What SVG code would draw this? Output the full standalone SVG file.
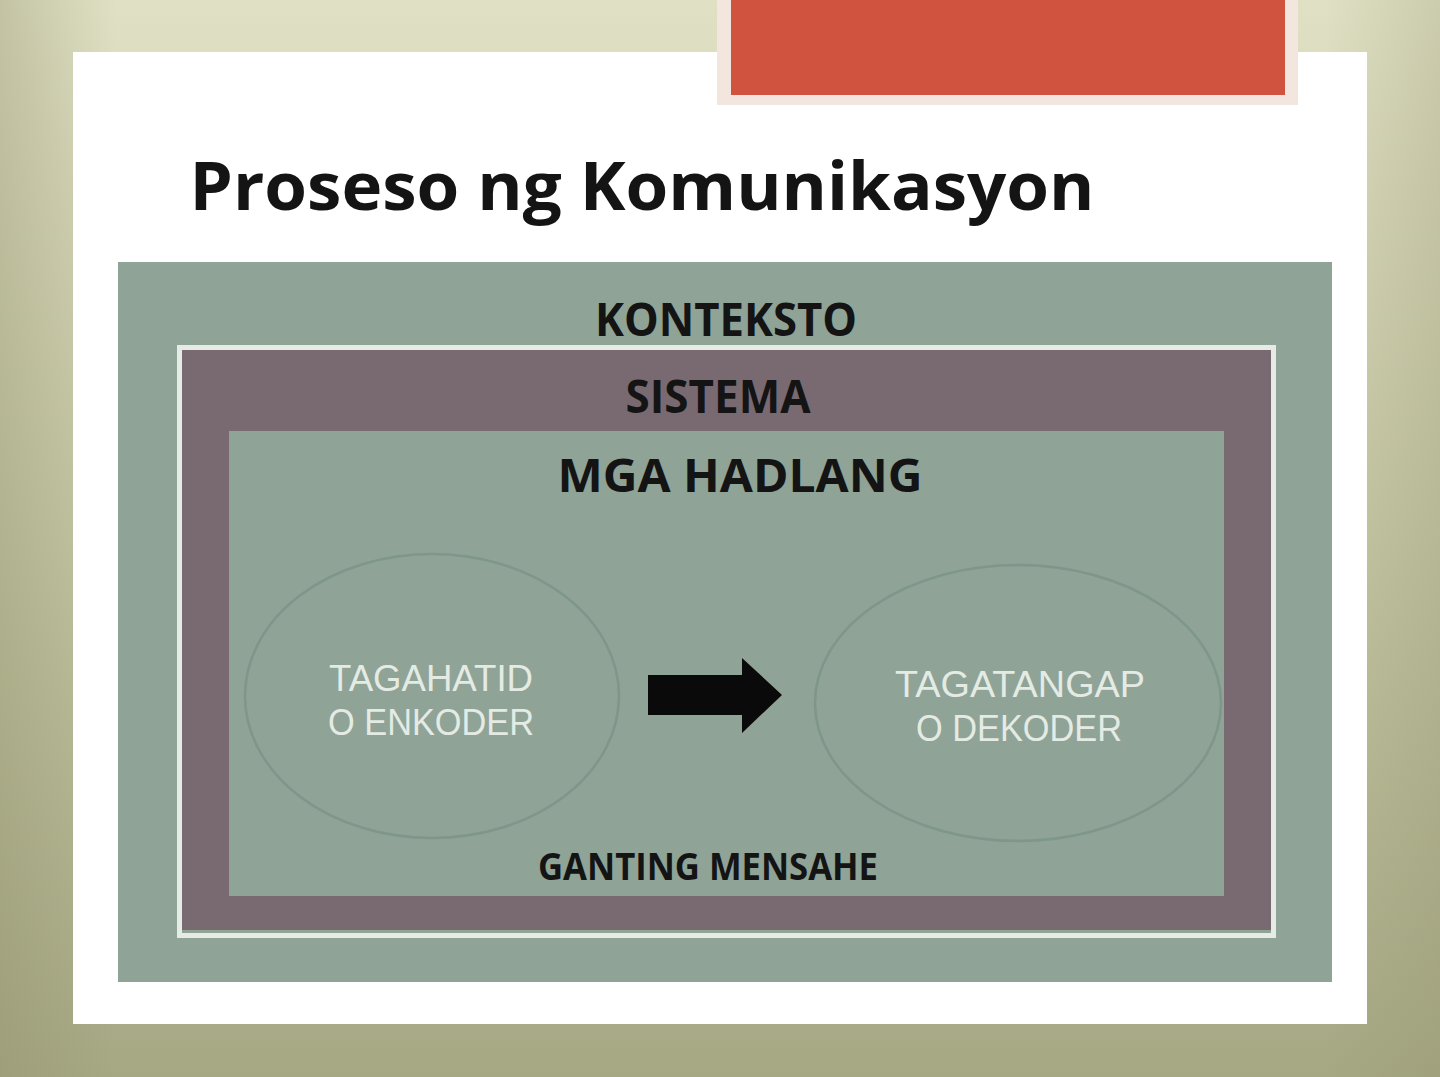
<svg xmlns="http://www.w3.org/2000/svg" width="1440" height="1077" viewBox="0 0 1440 1077">
<style>
.hdr{font-family:"Open Sans","Liberation Sans",sans-serif;font-weight:700;fill:#141414;text-anchor:middle}
.node{font-family:"Liberation Sans","DejaVu Sans",sans-serif;font-weight:400;fill:#e4ebe4;text-anchor:middle}
.ell{fill:none;stroke:#7f968a;stroke-width:2.5}
</style>
<defs>
<linearGradient id="bg" x1="0" y1="0" x2="0" y2="1">
<stop offset="0" stop-color="#e0e0c4"/>
<stop offset="0.5" stop-color="#c4c5a2"/>
<stop offset="1" stop-color="#a6a783"/>
</linearGradient>
<linearGradient id="bgx" x1="0" y1="0" x2="1" y2="0">
<stop offset="0" stop-color="#8e8f6a" stop-opacity="0.35"/>
<stop offset="0.08" stop-color="#8e8f6a" stop-opacity="0"/>
<stop offset="0.92" stop-color="#8e8f6a" stop-opacity="0"/>
<stop offset="1" stop-color="#8e8f6a" stop-opacity="0.25"/>
</linearGradient>
</defs>
<g id="background">
<rect x="0" y="0" width="1440" height="1077" fill="url(#bg)"/>
<rect x="0" y="0" width="1440" height="1077" fill="url(#bgx)"/>
</g>
<g id="slide">
<rect x="73" y="52" width="1294" height="972" fill="#ffffff"/>
<rect x="717" y="-2" width="581" height="107" fill="#f3e6df"/>
<rect x="731" y="-2" width="554" height="97" fill="#cf533e"/>
<text x="642" y="210" class="hdr" font-size="66" font-weight="600" textLength="905" lengthAdjust="spacingAndGlyphs">Proseso ng Komunikasyon</text>
</g>
<g id="konteksto">
<rect x="118" y="262" width="1214" height="720" fill="#8fa397"/>
<text x="726" y="336" class="hdr" font-size="46" textLength="262" lengthAdjust="spacingAndGlyphs">KONTEKSTO</text>
</g>
<g id="sistema">
<rect x="179.5" y="347.5" width="1094" height="588" fill="none" stroke="#e6ebe6" stroke-width="5"/>
<rect x="182" y="350" width="1089" height="580" fill="#786a70"/>
<text x="718" y="413" class="hdr" font-size="46" textLength="185" lengthAdjust="spacingAndGlyphs">SISTEMA</text>
</g>
<g id="mga-hadlang">
<rect x="229" y="431" width="995" height="465" fill="#8fa397"/>
<text x="740" y="492" class="hdr" font-size="46" textLength="365" lengthAdjust="spacingAndGlyphs">MGA HADLANG</text>
</g>
<g id="tagahatid">
<ellipse cx="432" cy="696" rx="187" ry="142" class="ell"/>
<text x="431" y="691" class="node" font-size="37" textLength="204" lengthAdjust="spacingAndGlyphs">TAGAHATID</text>
<text x="431" y="735" class="node" font-size="37" textLength="206" lengthAdjust="spacingAndGlyphs">O ENKODER</text>
</g>
<g id="tagatangap">
<ellipse cx="1018" cy="703" rx="203" ry="138" class="ell"/>
<text x="1020" y="697" class="node" font-size="37" textLength="250" lengthAdjust="spacingAndGlyphs">TAGATANGAP</text>
<text x="1019" y="741" class="node" font-size="37" textLength="206" lengthAdjust="spacingAndGlyphs">O DEKODER</text>
</g>
<g id="connectors">
<polygon points="648,675 742,675 742,658 782,695 742,733 742,715 648,715" fill="#0a0a0a"/>
</g>
<g id="ganting-mensahe">
<text x="708" y="880" class="hdr" font-size="37" textLength="340" lengthAdjust="spacingAndGlyphs">GANTING MENSAHE</text>
</g>
</svg>
